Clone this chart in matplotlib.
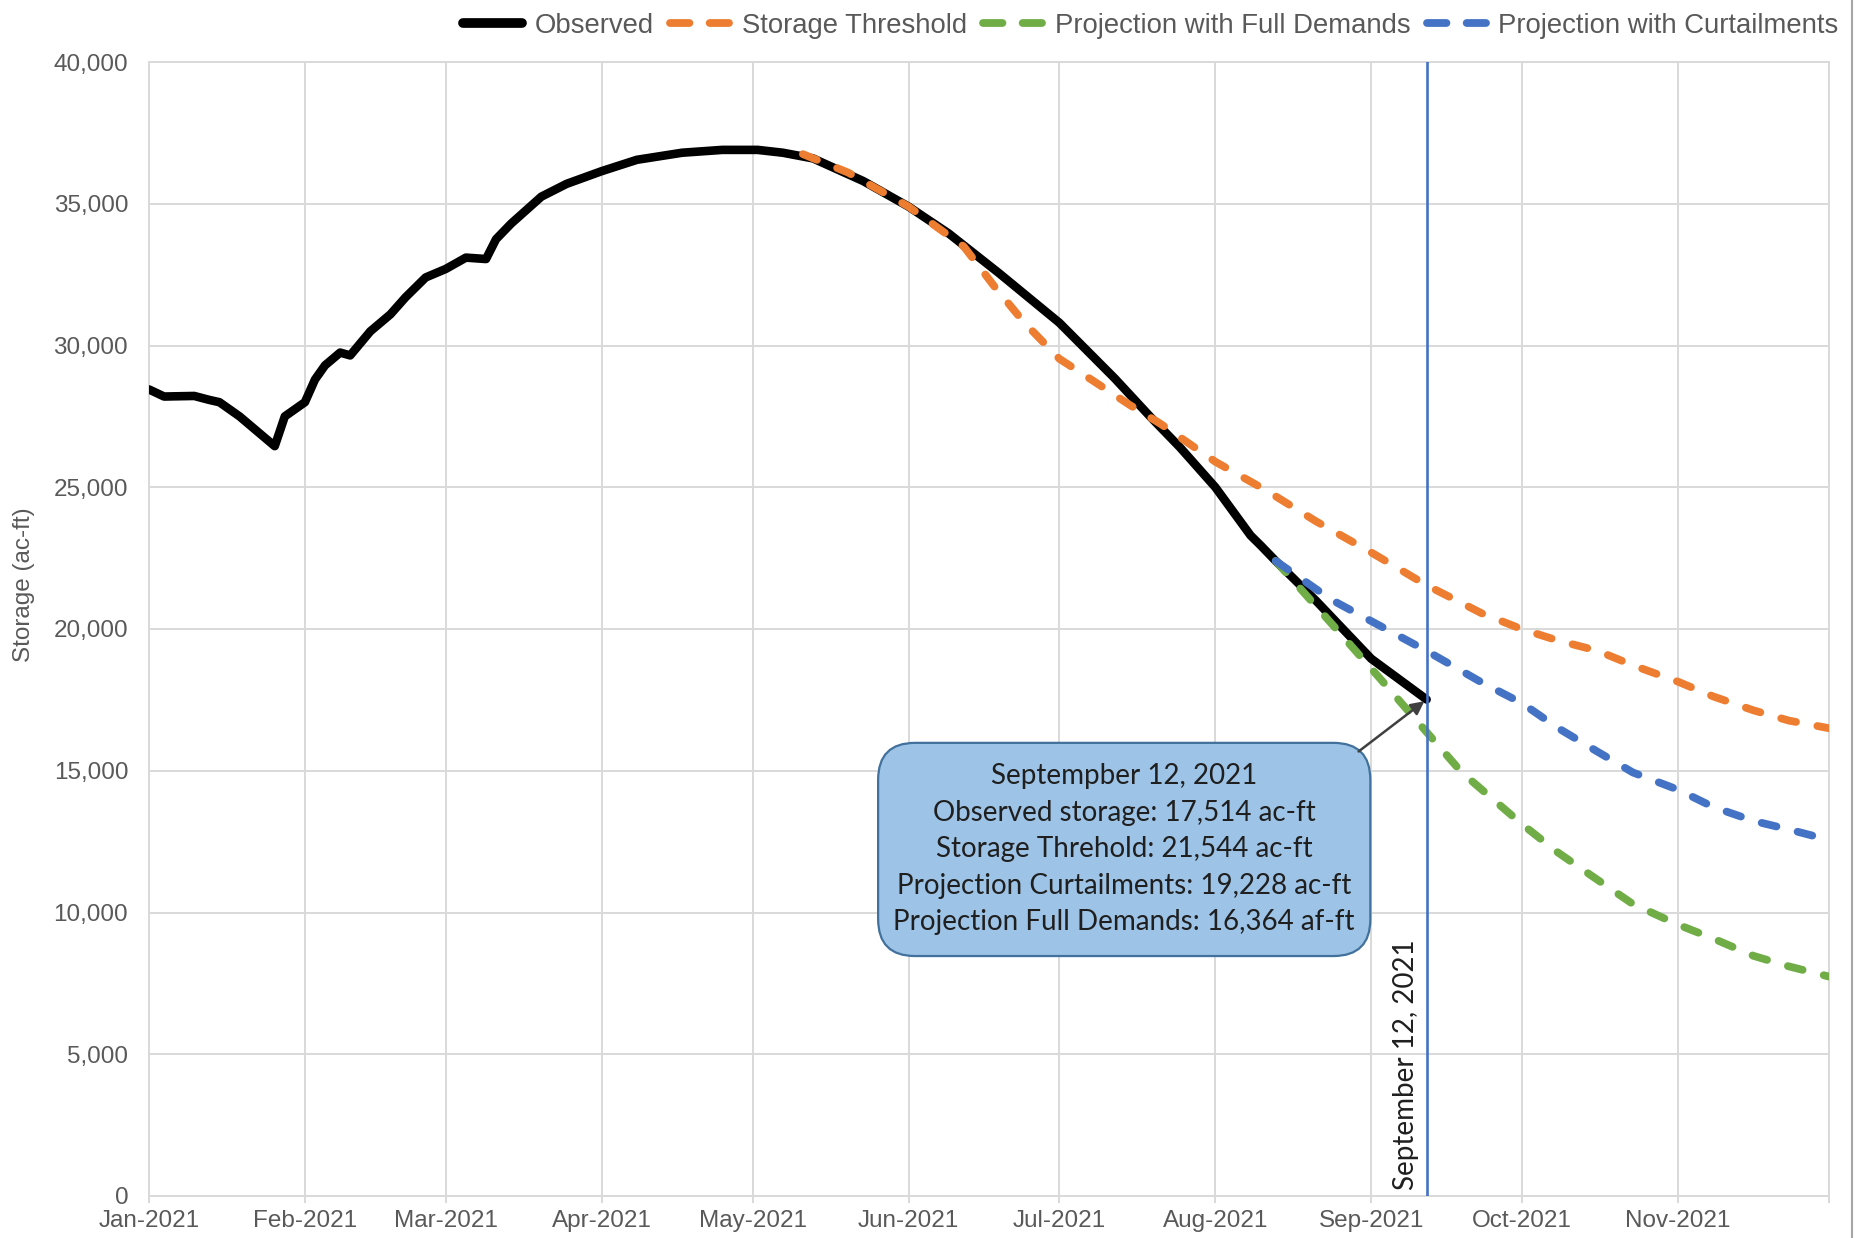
import numpy as np
import pandas as pd
import matplotlib
matplotlib.use("Agg")
import matplotlib.pyplot as plt
from matplotlib.patches import FancyBboxPatch
from matplotlib.lines import Line2D

# observed storage (ac-ft)
obs_dates = ['2021-01-01', '2021-01-04', '2021-01-10', '2021-01-13', '2021-01-15', '2021-01-19',
             '2021-01-26', '2021-01-28', '2021-02-01', '2021-02-03', '2021-02-05', '2021-02-08',
             '2021-02-10', '2021-02-14', '2021-02-18', '2021-02-21', '2021-02-25', '2021-03-01',
             '2021-03-05', '2021-03-09', '2021-03-11', '2021-03-14', '2021-03-20', '2021-03-25',
             '2021-04-01', '2021-04-08', '2021-04-17', '2021-04-25', '2021-05-02', '2021-05-07',
             '2021-05-13', '2021-05-23', '2021-06-01', '2021-06-09', '2021-06-19', '2021-07-01',
             '2021-07-12', '2021-07-19', '2021-07-25', '2021-08-01', '2021-08-08', '2021-08-10',
             '2021-08-13', '2021-08-21', '2021-09-01', '2021-09-12']
obs_values = [28450, 28200, 28220, 28080, 28000, 27500,
              26450, 27500, 28000, 28800, 29300, 29750,
              29650, 30500, 31100, 31700, 32400, 32700,
              33100, 33050, 33750, 34300, 35250, 35700,
              36150, 36550, 36800, 36900, 36900, 36800,
              36600, 35800, 34900, 33950, 32550, 30800,
              28840, 27500, 26400, 25000, 23300, 22950,
              22400, 21000, 18950, 17514]

thr_dates = ['2021-05-11', '2021-05-20', '2021-06-01', '2021-06-12', '2021-06-18', '2021-06-24',
             '2021-07-01', '2021-07-08', '2021-07-15', '2021-07-21', '2021-08-01', '2021-08-11',
             '2021-08-21', '2021-09-01', '2021-09-12', '2021-09-23', '2021-10-01', '2021-10-08',
             '2021-10-16', '2021-10-23', '2021-11-01', '2021-11-08', '2021-11-16', '2021-11-23',
             '2021-12-01']
thr_values = [36750, 36100, 34900, 33490, 32100, 30810,
              29530, 28720, 27900, 27250, 25900, 24900,
              23800, 22700, 21544, 20550, 19990, 19600,
              19230, 18720, 18140, 17620, 17130, 16770,
              16500]

full_dates = ['2021-08-13', '2021-08-24', '2021-09-03', '2021-09-12', '2021-09-19', '2021-10-01',
              '2021-10-08', '2021-10-16', '2021-10-23', '2021-11-01', '2021-11-08', '2021-11-16',
              '2021-11-23', '2021-12-01']
full_values = [22400, 20210, 18200, 16364, 14940, 13110,
               12130, 11150, 10300, 9570, 9080, 8470,
               8100, 7740]

cur_dates = ['2021-08-13', '2021-08-24', '2021-09-12', '2021-09-23', '2021-10-01', '2021-10-08',
             '2021-10-16', '2021-10-23', '2021-11-01', '2021-11-08', '2021-11-16', '2021-11-23',
             '2021-12-01']
cur_values = [22400, 21040, 19228, 18110, 17380, 16520,
              15670, 14940, 14330, 13720, 13230, 12930,
              12560]

month_ticks = pd.date_range('2021-01-01', '2021-12-01', freq='MS')
month_labels = ['Jan-2021', 'Feb-2021', 'Mar-2021', 'Apr-2021', 'May-2021', 'Jun-2021',
                'Jul-2021', 'Aug-2021', 'Sep-2021', 'Oct-2021', 'Nov-2021', '']
marker_date = '2021-09-12'
series_names = ['Observed', 'Storage Threshold', 'Projection with Full Demands',
                'Projection with Curtailments']
box_lines = ['Septempber 12, 2021',
             'Observed storage: 17,514 ac-ft',
             'Storage Threhold: 21,544 ac-ft',
             'Projection Curtailments: 19,228 ac-ft',
             'Projection Full Demands: 16,364 af-ft']

c_orange = '#ED7D31'
c_green = '#70AD47'
c_blue = '#4472C4'
c_grid = '#D9D9D9'
c_txt = '#595959'

plt.rcParams['font.family'] = ['Liberation Sans', 'DejaVu Sans']

W, H = 1856, 1238
fig = plt.figure(figsize=(W / 100, H / 100), dpi=100)
ax = fig.add_axes([149 / W, 42 / H, 1680 / W, 1134 / H])

td = pd.to_datetime
lw = 5.6
dash = (1.95, 2.8)
ax.plot(td(obs_dates), obs_values, color='black', lw=6.2, solid_capstyle='round',
        solid_joinstyle='round', zorder=3)
ax.plot(td(thr_dates), thr_values, color=c_orange, lw=lw, dashes=dash, dash_capstyle='round', zorder=4)
ax.plot(td(full_dates), full_values, color=c_green, lw=lw, dashes=dash, dash_capstyle='round', zorder=4)
ax.plot(td(cur_dates), cur_values, color=c_blue, lw=lw, dashes=dash, dash_capstyle='round', zorder=4)

ax.axvline(td(marker_date), color=c_blue, lw=1.9, zorder=5)

ax.set_xlim(td('2021-01-01'), td('2021-12-01'))
ax.set_ylim(0, 40000)
ax.set_xticks(month_ticks)
ax.set_xticklabels(month_labels)
ax.set_yticks(np.arange(0, 40001, 5000))
ax.yaxis.set_major_formatter(matplotlib.ticker.FuncFormatter(lambda v, p: f'{v:,.0f}'))
ax.grid(True, color=c_grid, lw=1.4, zorder=0)
ax.set_axisbelow(True)
for s in ax.spines.values():
    s.set_color(c_grid)
    s.set_linewidth(1.4)
ax.tick_params(axis='x', length=5, width=1.4, color=c_grid, labelsize=17.5, labelcolor=c_txt, pad=5)
ax.tick_params(axis='y', length=0, labelsize=17.5, labelcolor=c_txt, pad=15)
ax.set_ylabel('Storage (ac-ft)', fontsize=17.5, color=c_txt)
ax.yaxis.set_label_coords(-0.068, 0.539)

# vertical date label
ax.annotate('September 12, 2021', xy=(td(marker_date), 0), xycoords=('data', 'axes fraction'),
            xytext=(-15, 4), textcoords='offset points', rotation=90, ha='center', va='bottom',
            fontsize=20, family=['Lato', 'DejaVu Sans'], color='#1F1F1F', zorder=6)

# callout box
bx0, by0, bw, bh = 0.434, 0.2116, 0.293, 0.188
box = FancyBboxPatch((bx0, by0), bw, bh, boxstyle='round,pad=0,rounding_size=0.022',
                     mutation_aspect=1680 / 1134, transform=ax.transAxes,
                     facecolor='#9DC3E6', edgecolor='#41719C', lw=1.6, zorder=6)
ax.add_patch(box)
ax.text(bx0 + bw / 2, by0 + bh / 2, '\n'.join(box_lines), transform=ax.transAxes,
        ha='center', va='center', fontsize=20, linespacing=1.5,
        family=['Lato', 'DejaVu Sans'], color='#1F1F1F', zorder=7)
ax.annotate('', xy=(td(marker_date), obs_values[-1]), xytext=(0.72, 0.392),
            textcoords='axes fraction', zorder=6,
            arrowprops=dict(arrowstyle='-|>', color='#404040', lw=1.8, mutation_scale=20,
                            shrinkA=0, shrinkB=2))

# legend proxies: two dashes per handle as in the original
leg_dash = (2.5, 2.6)
handles = [Line2D([], [], color='black', lw=7, solid_capstyle='round'),
           Line2D([], [], color=c_orange, lw=lw, dashes=leg_dash, dash_capstyle='round'),
           Line2D([], [], color=c_green, lw=lw, dashes=leg_dash, dash_capstyle='round'),
           Line2D([], [], color=c_blue, lw=lw, dashes=leg_dash, dash_capstyle='round')]
fig.legend(handles, series_names, loc='center left', bbox_to_anchor=(463 / W, 1 - 26 / H),
           ncol=4, frameon=False, fontsize=19.8, labelcolor=c_txt, handlelength=2.15,
           handletextpad=0.45, columnspacing=0.6, borderpad=0, borderaxespad=0)

fig.add_artist(Line2D([1852 / W, 1852 / W], [0, 1], color='#A6A6A6', lw=1.5))

fig.savefig('out.png', dpi=100, facecolor='white')
